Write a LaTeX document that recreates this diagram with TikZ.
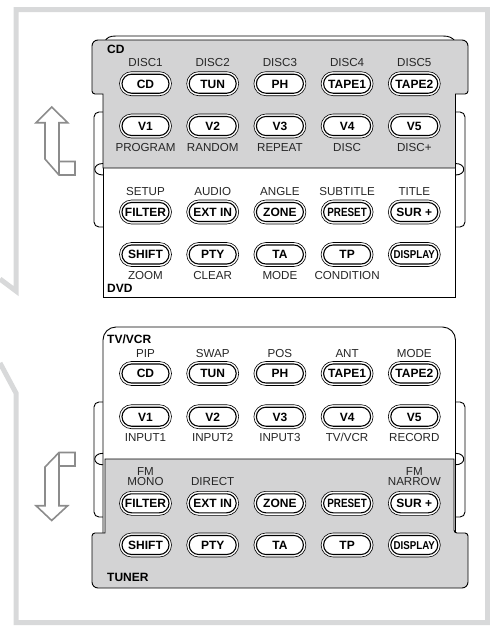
\documentclass[tikz,border=0pt]{standalone}
\usepackage{fontspec}
\usepackage{graphicx}
\setmainfont{Liberation Sans}
\definecolor{panelgray}{RGB}{211,211,212}
\definecolor{framegray}{RGB}{216,217,218}
\definecolor{arrowgray}{RGB}{140,140,140}
\definecolor{labgray}{RGB}{38,38,38}
\tikzset{
 lab/.style={font=\fontsize{11.6}{12}\selectfont, text=labgray, inner sep=0pt, text height=8.3pt, text depth=0pt},
 ptitle/.style={font=\fontsize{12}{12}\selectfont\bfseries, inner sep=0pt, anchor=west, text height=8.6pt, text depth=0pt},
 keyout/.style={draw, line width=0.6pt, fill=white, rectangle, rounded corners=12pt, minimum width=52pt, minimum height=24pt, inner sep=0pt},
 keyin/.style={draw, line width=1.1pt, rectangle, rounded corners=9.5pt, minimum width=47pt, minimum height=19pt, inner sep=0pt, font=\fontsize{12}{12}\selectfont\bfseries, text height=8.6pt, text depth=0pt},
 panel/.style={draw=black, line width=0.9pt},
 arrowline/.style={draw=arrowgray, line width=1.6pt, line join=miter},
 frameline/.style={draw=framegray, line width=5pt, line join=miter}
}
\newcommand\Key[4]{\node[keyout] (#1) at (#2,#3) {}; \node[keyin] (#1t) at (#1) {#4};}
\newcommand\PRE{\scalebox{0.82}[1]{PRESET}}
\newcommand\DISP{\scalebox{0.81}[0.95]{DISPLAY}}
\begin{document}
\begin{tikzpicture}[x=1pt,y=-1pt]
\useasboundingbox (0,0) rectangle (490,627);
% outer frame
\draw[frameline] (0,279) -- (16,291) -- (16,9.5) -- (487.5,9.5) -- (487.5,622.5) -- (16,622.5) -- (16,393) -- (0,363);
% arrows
\draw[arrowline] (51.7,107) -- (67.7,122.7) -- (59,122.7) -- (59,161.5) -- (75,161.5) -- (75,175) -- (59,175) -- (45,159) -- (45,122.7) -- (36,122.7) -- cycle;
\draw[arrowline] (59,161.5) -- (59,175);
\draw[arrowline] (51.7,520.5) -- (67.7,505.7) -- (59,505.7) -- (59,466) -- (75,466) -- (75,452.5) -- (59,452.5) -- (45,467) -- (45,505.7) -- (36,505.7) -- cycle;
\draw[arrowline] (59,452.5) -- (59,466);

% ===== upper assembly =====
\draw[panel, rounded corners=5pt] (103,112) -- (94,112) -- (94,227) -- (103,227);
\draw[panel, rounded corners=5pt] (455.5,112) -- (465,112) -- (465,227) -- (455.5,227);
\draw[panel] (105,41) .. controls (107,37.5) and (110,36) .. (116,36) -- (443,36) .. controls (449,36) and (452,37.5) .. (455,41);
\draw[panel, fill=white] (103,160) -- (103,297) -- (455.5,297) -- (455.5,160);
\draw[panel, fill=panelgray] (103,168) -- (103,94) [rounded corners=3pt] -- (92,94) [rounded corners=6pt] -- (92,40) -- (468,40) [rounded corners=3pt] -- (468,94) [sharp corners] -- (455.5,94) -- (455.5,168) -- cycle;
\draw[panel] (103,163.5) .. controls (92,163.5) and (92,175) .. (103,175);
\draw[panel] (455.5,163.5) .. controls (466.5,163.5) and (466.5,175) .. (455.5,175);

\node[ptitle] (tcd) at (107,49.3) {CD};
\node[ptitle] (tdvd) at (107,288.3) {DVD};
\foreach \t [count=\i] in {DISC1,DISC2,DISC3,DISC4,DISC5}
  \node[lab] (ul\i) at (145.5+67.2*\i-67.2,62) {\t};
\foreach \t [count=\i] in {CD,TUN,PH,TAPE1,TAPE2}
  {\Key{ua\i}{145.5+67.2*\i-67.2}{83.7}{\t}}
\foreach \t [count=\i] in {V1,V2,V3,V4,V5}
  {\Key{ub\i}{145.5+67.2*\i-67.2}{126}{\t}}
\foreach \t [count=\i] in {PROGRAM,RANDOM,REPEAT,DISC,DISC+}
  \node[lab] (um\i) at (145.5+67.2*\i-67.2,147.3) {\t};
\foreach \t [count=\i] in {SETUP,AUDIO,ANGLE,SUBTITLE,TITLE}
  \node[lab] (un\i) at (145.5+67.2*\i-67.2,191.7) {\t};
\foreach \t [count=\i] in {FILTER,EXT IN,ZONE,\PRE,SUR +}
  {\Key{uc\i}{145.5+67.2*\i-67.2}{212}{\t}}
\foreach \t [count=\i] in {SHIFT,PTY,TA,TP,\DISP}
  {\Key{ud\i}{145.5+67.2*\i-67.2}{254.5}{\t}}
\foreach \t [count=\i] in {ZOOM,CLEAR,MODE,CONDITION}
  \node[lab] (uo\i) at (145.5+67.2*\i-67.2,275.7) {\t};

% ===== lower assembly =====
\draw[panel, rounded corners=5pt] (103,402) -- (94,402) -- (94,517) -- (103,517);
\draw[panel, rounded corners=5pt] (455.5,402) -- (465,402) -- (465,517) -- (455.5,517);
\draw[panel, fill=white, rounded corners=13pt] (103,540) -- (103,327) -- (455.5,327) -- (455.5,540);
\draw[panel, fill=panelgray] (105,459) -- (454,459) [rounded corners=3pt] -- (454,533) -- (468,533) [rounded corners=6pt] -- (468,588) -- (92,588) [rounded corners=3pt] -- (92,533) [sharp corners] -- (105,533) -- cycle;
\draw[panel] (103,453.3) .. controls (92,453.3) and (92,464.8) .. (103,464.8);
\draw[panel] (455.5,453.3) .. controls (466.5,453.3) and (466.5,464.8) .. (455.5,464.8);

\node[ptitle] (ttv) at (107,339.3) {TV/VCR};
\node[ptitle] (ttu) at (107,577.3) {TUNER};
\foreach \t [count=\i] in {PIP,SWAP,POS,ANT,MODE}
  \node[lab] (ll\i) at (145.5+67.2*\i-67.2,353.3) {\t};
\foreach \t [count=\i] in {CD,TUN,PH,TAPE1,TAPE2}
  {\Key{la\i}{145.5+67.2*\i-67.2}{373.5}{\t}}
\foreach \t [count=\i] in {V1,V2,V3,V4,V5}
  {\Key{lb\i}{145.5+67.2*\i-67.2}{416.7}{\t}}
\foreach \t [count=\i] in {INPUT1,INPUT2,INPUT3,TV/VCR,RECORD}
  \node[lab] (lm\i) at (145.5+67.2*\i-67.2,437.7) {\t};
\node[lab] (lfa) at (145.5,471) {FM};
\node[lab] (lfb) at (145.5,481.7) {MONO};
\node[lab] (lfc) at (212.7,481.7) {DIRECT};
\node[lab] (lfd) at (414.3,471) {FM};
\node[lab] (lfe) at (414.3,481.7) {NARROW};
\foreach \t [count=\i] in {FILTER,EXT IN,ZONE,\PRE,SUR +}
  {\Key{lc\i}{145.5+67.2*\i-67.2}{503.3}{\t}}
\foreach \t [count=\i] in {SHIFT,PTY,TA,TP,\DISP}
  {\Key{ld\i}{145.5+67.2*\i-67.2}{545}{\t}}
\end{tikzpicture}
\end{document}
